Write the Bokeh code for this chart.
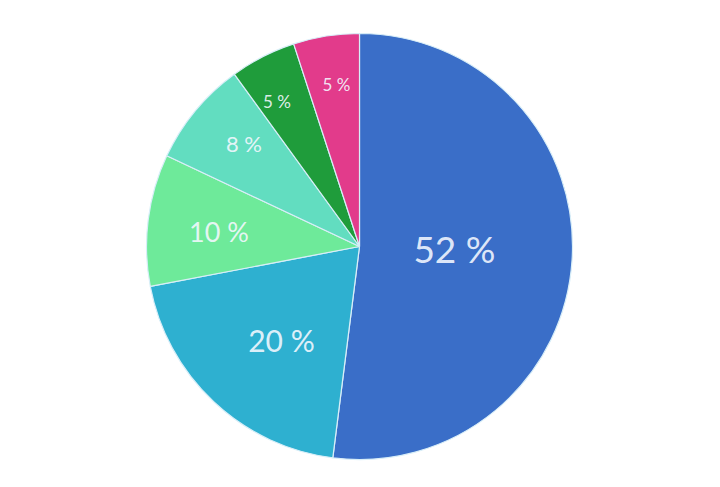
import math
from bokeh.plotting import figure
from bokeh.models import ColumnDataSource, Range1d
from bokeh.embed import file_html
from bokeh.resources import INLINE
from bokeh.core.properties import value

# Data (clockwise from 12 o'clock)
labels = ["52 %", "20 %", "10  %", "8 %", "5 %", "5 %"]
shares = [52, 20, 10, 8, 5, 5]
colors = ["#3A6EC8", "#2EB0D0", "#6EEA9A", "#62DDC0", "#1F9C3B", "#E23B8B"]

# Styling of labels (radius fraction, angular nudge in degrees clockwise, size)
label_radius = [0.446, 0.58, 0.646, 0.72, 0.775, 0.76]
label_nudge = [-1.2, -4.0, -1.8, 1.5, -3.0, 0.8]
label_sizes = ["37px", "30px", "27px", "22px", "17px", "17px"]

W, H = 704, 471
cx, cy, R = 359, 225, 213

total = sum(shares)
starts, ends, lx, ly = [], [], [], []
cum = 0
for s, lr, nd in zip(shares, label_radius, label_nudge):
    a0 = math.pi / 2 - 2 * math.pi * cum / total
    a1 = math.pi / 2 - 2 * math.pi * (cum + s) / total
    starts.append(a0)
    ends.append(a1)
    mid = (a0 + a1) / 2 - math.radians(nd)
    lx.append(cx + lr * R * math.cos(mid))
    ly.append(cy + lr * R * math.sin(mid))
    cum += s

src = ColumnDataSource(dict(start=starts, end=ends, color=colors,
                            x=[cx] * len(shares), y=[cy] * len(shares)))
tsrc = ColumnDataSource(dict(x=lx, y=ly, text=labels, size=label_sizes))

p = figure(width=W, height=H, output_backend="svg", toolbar_location=None,
           x_range=Range1d(0, W), y_range=Range1d(0, H), min_border=0)
p.axis.visible = False
p.grid.visible = False
p.outline_line_color = None
p.background_fill_color = "white"

p.wedge(x="x", y="y", radius=R, start_angle="start", end_angle="end",
        direction="clock", fill_color="color", line_color="#D8EEF8",
        line_width=1.2, source=src)

p.text(x="x", y="y", text="text", text_font_size="size", source=tsrc,
       text_align="center", text_baseline="middle", text_color="#F4F8FF",
       text_alpha=0.9, y_offset=-2, text_font=value("Lato"))

open("out.html", "w").write(file_html(p, INLINE))
